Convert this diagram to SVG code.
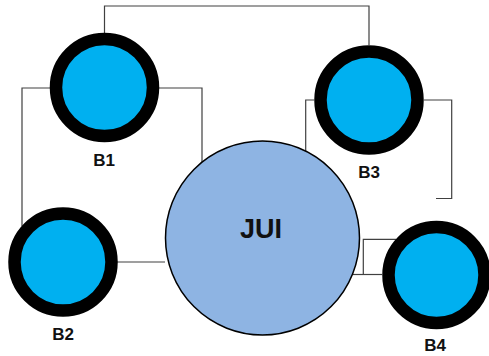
<svg xmlns="http://www.w3.org/2000/svg" width="489" height="356" viewBox="0 0 489 356">
<style>
.conn{fill:none;stroke:#404040;stroke-width:1.2}
.b{fill:#00B0F0;stroke:#000;stroke-width:12.5}
.lbl{font-family:"Liberation Sans",Arial,sans-serif;font-weight:bold;font-size:17px;fill:#111;text-anchor:middle}
</style>
<rect width="489" height="356" fill="#fff"/>
<g id="connectors">
<polyline class="conn" points="104.5,33 104.5,6 369,6 369,45"/>
<polyline class="conn" points="50,88 22,88 22,226"/>
<polyline class="conn" points="159,88 202,88 202,162"/>
<polyline class="conn" points="314,100 305.7,100 305.7,151"/>
<polyline class="conn" points="424,100 451.7,100 451.7,198.5 436,198.5"/>
<line class="conn" x1="117" y1="262" x2="165" y2="262"/>
<polyline class="conn" points="352,274.5 382,274.5"/>
<polyline class="conn" points="363.3,274.5 363.3,239.3 396,239.3"/>
</g>
<g id="JUI">
<circle cx="262.5" cy="238" r="97" fill="#8EB4E3" stroke="#000" stroke-width="1.5"/>
<text x="261" y="238" font-family="Liberation Sans,Arial,sans-serif" font-weight="bold" font-size="27" fill="#111" text-anchor="middle">JUI</text>
</g>
<g id="B1">
<circle class="b" cx="104.5" cy="87.5" r="48.5"/>
<text class="lbl" x="104" y="166">B1</text>
</g>
<g id="B3">
<circle class="b" cx="369" cy="100" r="48.5"/>
<text class="lbl" x="369" y="178">B3</text>
</g>
<g id="B2">
<circle class="b" cx="63" cy="262" r="48.5"/>
<text class="lbl" x="63" y="340">B2</text>
</g>
<g id="B4">
<circle class="b" cx="436.5" cy="275" r="48"/>
<text class="lbl" x="435" y="351">B4</text>
</g>
</svg>
